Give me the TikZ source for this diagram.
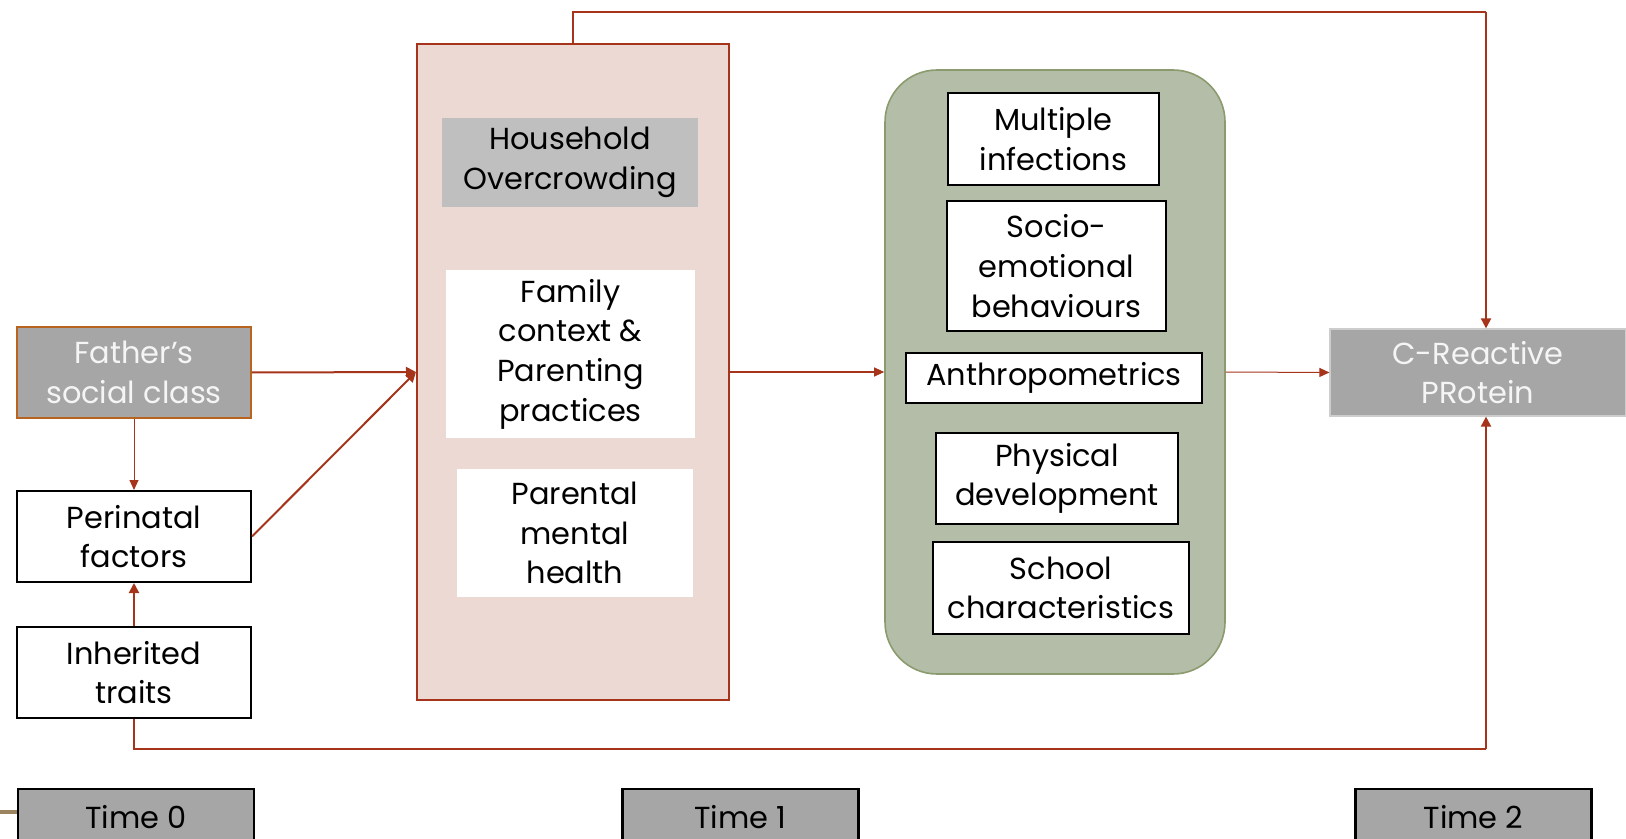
\documentclass[tikz,border=0pt]{standalone}
\usepackage{fontspec}
\setmainfont{Poppins}
\usetikzlibrary{arrows.meta}
\definecolor{arrowc}{RGB}{165,52,27}
\definecolor{pinkfill}{RGB}{236,217,211}
\definecolor{hhfill}{RGB}{191,191,191}
\definecolor{greenfill}{RGB}{179,189,168}
\definecolor{greenline}{RGB}{140,155,110}
\definecolor{fatherline}{RGB}{184,100,30}
\definecolor{greyfill}{RGB}{166,166,166}
\definecolor{crpline}{RGB}{205,205,205}
\definecolor{brownline}{RGB}{156,132,97}
\definecolor{lighttext}{RGB}{245,245,245}
\begin{document}
\begin{tikzpicture}[x=0.5pt,y=-0.5pt,
  every node/.style={font=\fontsize{15.2}{19.8}\selectfont, align=center, inner sep=0pt},
  wbox/.style={draw=black, line width=1pt, fill=white},
  pbox/.style={fill=white},
  tbox/.style={draw=black, line width=1.2pt, fill=greyfill, minimum width=118pt, minimum height=28pt},
  conn/.style={draw=arrowc, line width=1pt, -{Triangle[length=5pt,width=5pt]}},
  thin conn/.style={draw=arrowc, line width=0.5pt, -{Triangle[length=5pt,width=4.5pt]}},
  link/.style={draw=arrowc, line width=1pt}
]
\useasboundingbox (0,0) rectangle (1626,839);

% left column
\node[draw=fatherline, line width=1pt, fill=greyfill, text=lighttext, minimum width=117pt, minimum height=45.5pt] (fat) at (134,372.5) {Father’s\\social class};
\node[wbox, minimum width=117pt, minimum height=45.5pt] (per) at (134,536.5) {Perinatal\\factors};
\node[wbox, minimum width=117pt, minimum height=45.5pt] (inh) at (134,672.5) {Inherited\\traits};

% pink container
\node[draw=arrowc, line width=1pt, fill=pinkfill, minimum width=156pt, minimum height=328pt] (pink) at (573,372) {};
\node[fill=hhfill, minimum width=128pt, minimum height=44.5pt] (hh) at (570,162.5) {Household\\Overcrowding};
\node[pbox, minimum width=124.5pt, minimum height=84pt] (fam) at (570.5,354) {Family\\context \&\\Parenting\\practices};
\node[pbox, minimum width=118pt, minimum height=64pt] (pmh) at (575,533) {Parental\\mental\\health};

% green container
\node[draw=greenline, line width=0.8pt, fill=greenfill, rounded corners=26pt, minimum width=170pt, minimum height=302pt] (green) at (1055,372) {};
\node[wbox, minimum width=105.5pt, minimum height=46pt] (mul) at (1053.5,139) {Multiple\\infections};
\node[wbox, minimum width=109.5pt, minimum height=65pt] (soc) at (1056.5,266) {Socio-\\emotional\\behaviours};
\node[wbox, minimum width=148pt, minimum height=25pt] (ant) at (1054,378) {Anthropometrics};
\node[wbox, minimum width=121pt, minimum height=45.5pt] (phy) at (1057,478.5) {Physical\\development};
\node[wbox, minimum width=128pt, minimum height=46pt] (sch) at (1061,588) {School\\characteristics};

% outcome
\node[draw=crpline, line width=0.6pt, fill=greyfill, text=lighttext, minimum width=148pt, minimum height=43.5pt] (crp) at (1478,372.5) {C-Reactive\\PRotein};

% time boxes
\node[tbox] (t0) at (136,817) {Time 0};
\node[tbox] (t1) at (740.5,817) {Time 1};
\node[tbox] (t2) at (1473.5,817) {Time 2};
\coordinate (bl) at (0,812);
\draw[brownline, line width=2pt] (bl) -- (bl -| t0.west);

% connectors
\draw[thin conn] (fat.south) -- (per.north);
\draw[conn] (inh.north) -- (per.south);
\draw[conn] (fat.east) -- (pink.west);
\draw[conn] (per.east) -- (pink.west);
\draw[thin conn] (pink.east) -- (green.west);
\draw[thin conn] (green.east) -- (crp.west);
\coordinate (topc) at (1486,12);
\coordinate (botc) at (1486,749);
\draw[link] (pink.north) |- (topc);
\draw[conn] (topc) -- (topc |- crp.north);
\draw[link] (inh.south) |- (botc);
\draw[conn] (botc) -- (botc |- crp.south);
\end{tikzpicture}
\end{document}
